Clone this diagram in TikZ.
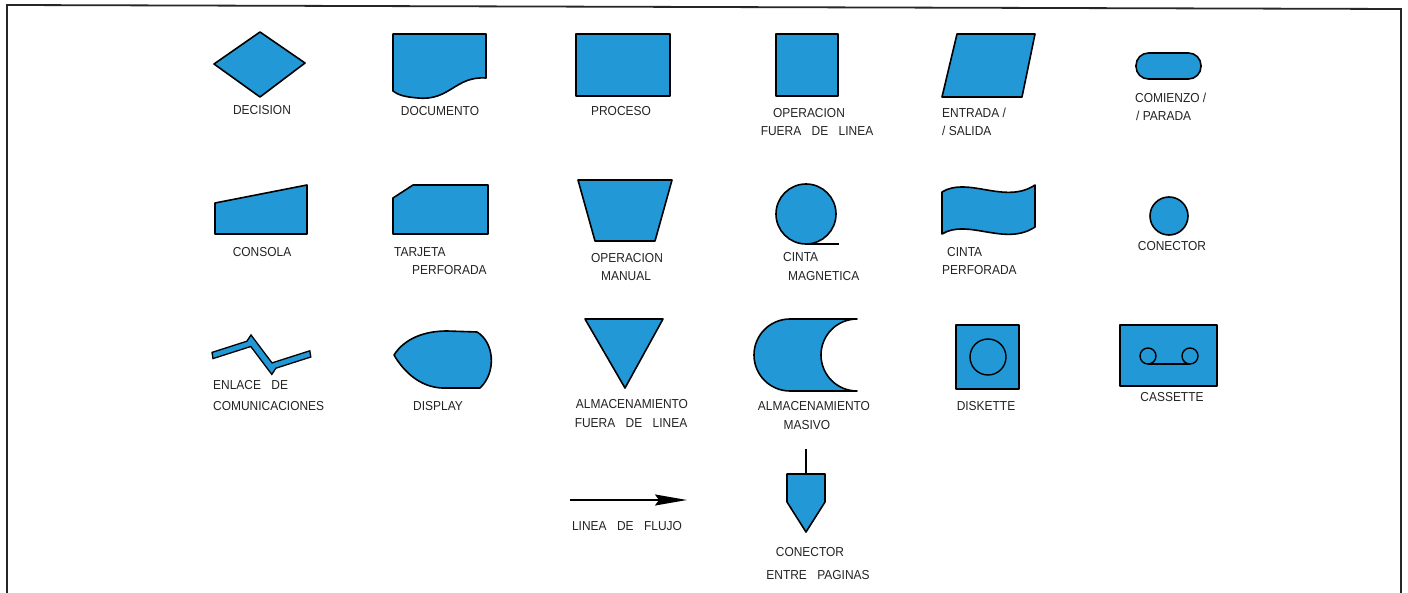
\documentclass[tikz,border=0pt]{standalone}
\usepackage{fontspec}
\setmainfont{Liberation Sans}[FakeStretch=0.92]
\usetikzlibrary{arrows.meta}
\definecolor{symblue}{RGB}{35,152,214}
\definecolor{ink}{RGB}{35,35,35}
\newcommand\gapw{\hspace{0.8em}}
\begin{document}
\begin{tikzpicture}[x=1pt,y=-1pt,
  sym/.style={draw=black,fill=symblue,line width=1.6pt,line join=round},
  thinline/.style={draw=black,line width=1.4pt},
  frame/.style={draw=black!85,line width=1.8pt},
  lbl/.style={font=\fontsize{13}{16}\selectfont,text=ink,inner sep=0pt,anchor=base},
  lbll/.style={lbl,anchor=base west}]
\useasboundingbox (0,0) rectangle (1408,593);
\fill[white] (0,0) rectangle (1408,593);
% frame
\coordinate (fbl) at (7,593);
\coordinate (ftl) at (7,5);
\coordinate (ftr) at (1401,9);
\coordinate (fbr) at (1401,593);
\draw[frame] (fbl) -- (ftl) -- (ftr) -- (fbr);

% ---------- row 1 ----------
\draw[sym] (214,64) -- (260,32) -- (305,63) -- (260,97) -- cycle;
\draw[sym] (393,34) -- (486,34) -- (486,78)
  .. controls (455,76) and (450,101) .. (418,98)
  .. controls (405,97) and (398,95) .. (393,91) -- cycle;
\draw[sym] (576,34) rectangle (670,96);
\draw[sym] (776,34) rectangle (838,96);
\draw[sym] (957,34) -- (1035,34) -- (1022,97) -- (942,97) -- cycle;
\draw[sym,rounded corners=12.5pt] (1136,53) rectangle (1201,79);

\node[lbl] (tdec) at (262,115) {DECISION};
\node[lbl] (tdoc) at (440,116) {DOCUMENTO};
\node[lbl] (tpro) at (621,116) {PROCESO};
\node[lbl] (tofa) at (809,118) {OPERACION};
\node[lbl] (tofb) at (817,136) {FUERA\gapw DE\gapw LINEA};
\node[lbll] (tesa) at (942,118) {ENTRADA /};
\node[lbll] (tesb) at (942,136) {/ SALIDA};
\node[lbll] (tcpa) at (1135,103) {COMIENZO /};
\node[lbll] (tcpb) at (1136,121) {/ PARADA};

% ---------- row 2 ----------
\draw[sym] (215,234) -- (215,203) -- (307,185) -- (307,234) -- cycle;
\draw[sym] (393,234) -- (393,198) -- (413,185) -- (488,185) -- (488,234) -- cycle;
\draw[sym] (578,180) -- (672,180) -- (655,241) -- (595,241) -- cycle;
\draw[sym] (806,214) circle[radius=30pt];
\coordinate (mgA) at (806,244);
\coordinate (mgB) at (839,244);
\draw[thinline] (mgA) -- (mgB);
\draw[sym] (942,192) .. controls (968,176) and (1005,205) .. (1035,185)
  -- (1035,227) .. controls (1005,247) and (968,218) .. (942,234) -- cycle;
\draw[sym] (1169,216) circle[radius=19pt];

\node[lbl] (tcon) at (262,257) {CONSOLA};
\node[lbll] (ttja) at (394,257) {TARJETA};
\node[lbll] (ttjb) at (412,275) {PERFORADA};
\node[lbl] (tmna) at (627,263) {OPERACION};
\node[lbl] (tmnb) at (626,281) {MANUAL};
\node[lbll] (tcma) at (783,262) {CINTA};
\node[lbll] (tcmb) at (788,281) {MAGNETICA};
\node[lbll] (tcpfa) at (947,257) {CINTA};
\node[lbll] (tcpfb) at (942,275) {PERFORADA};
\node[lbl] (tcnc) at (1172,251) {CONECTOR};

% ---------- row 3 ----------
\draw[sym,line width=1.3pt,line join=miter] (212,352.4) -- (246.9,341.2) -- (251,335) -- (272,362.9)
  -- (309.8,350.8) -- (310.8,357) -- (275.9,368.2) -- (271.8,374.4) -- (250.8,346.5)
  -- (213,358.6) -- cycle;
\draw[sym] (394,355) .. controls (405,338) and (425,331) .. (447,331)
  -- (477,332) .. controls (494,342) and (497,372) .. (480,388)
  -- (442,388) .. controls (420,387) and (404,372) .. (394,355) -- cycle;
\draw[sym] (585,319) -- (663,319) -- (625,388) -- cycle;
\draw[sym] (857,319) -- (790,319) arc[start angle=90,end angle=270,radius=36pt]
  -- (857,391) arc[start angle=270,end angle=90,radius=36pt] -- cycle;
\draw[sym] (956,325) rectangle (1019,389);
\draw[thinline] (988,357) circle[radius=18pt];
\draw[sym] (1120,325) rectangle (1217,386);
\draw[thinline] (1148,356) circle[radius=8pt];
\draw[thinline] (1190,356) circle[radius=8pt];
\coordinate (csA) at (1148,364);
\coordinate (csB) at (1190,364);
\draw[thinline] (csA) -- (csB);

\node[lbll] (tena) at (213,390) {ENLACE\gapw DE};
\node[lbll] (tenb) at (213,410) {COMUNICACIONES};
\node[lbl] (tdis) at (438,410) {DISPLAY};
\node[lbl] (tafa) at (632,409) {ALMACENAMIENTO};
\node[lbl] (tafb) at (631,428) {FUERA\gapw DE\gapw LINEA};
\node[lbl] (tama) at (814,410) {ALMACENAMIENTO};
\node[lbl] (tamb) at (807,429) {MASIVO};
\node[lbl] (tdsk) at (986,410) {DISKETTE};
\node[lbl] (tcas) at (1172,401) {CASSETTE};

% ---------- row 4 ----------
\coordinate (flA) at (570,500);
\coordinate (flB) at (687,500);
\draw[line width=1.5pt,-{Stealth[length=32pt,width=11pt,inset=4pt]}] (flA) -- (flB);
\coordinate (stA) at (806,449);
\coordinate (stB) at (806,474);
\draw[thinline,line width=1.8pt] (stA) -- (stB);
\draw[sym] (787,474) -- (825,474) -- (825,502) -- (806,532) -- (787,502) -- cycle;

\node[lbl] (tflj) at (627,530) {LINEA\gapw DE\gapw FLUJO};
\node[lbl] (tcea) at (810,556) {CONECTOR};
\node[lbl] (tceb) at (818,579) {ENTRE\gapw PAGINAS};
\end{tikzpicture}
\end{document}
